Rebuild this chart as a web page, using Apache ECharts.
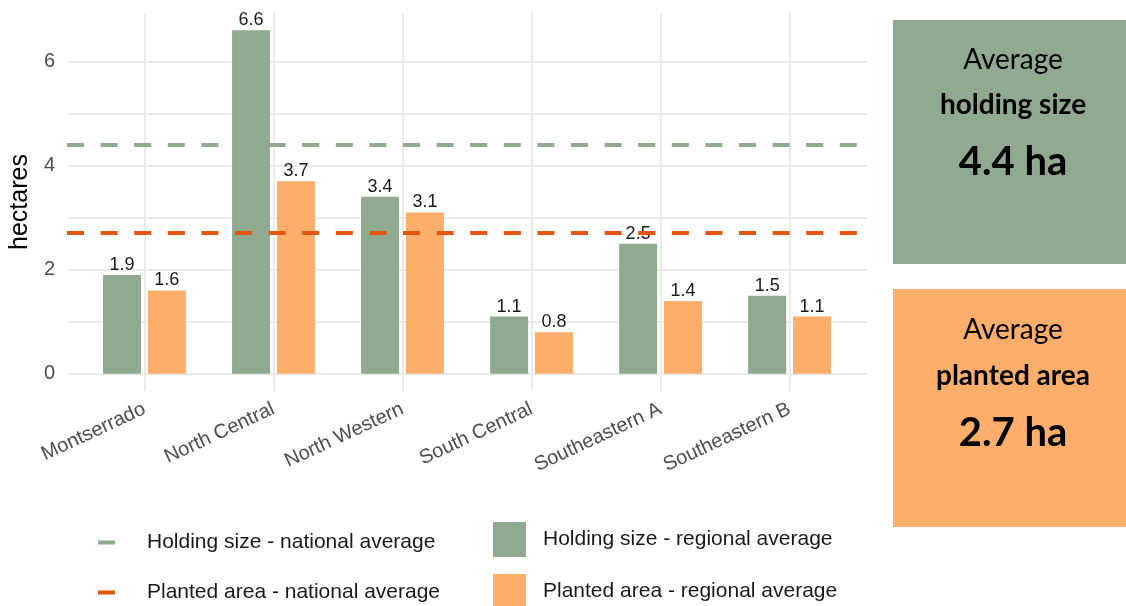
<!DOCTYPE html>
<html>
<head>
<meta charset="utf-8">
<title>Holding size and planted area by region</title>
<script src="https://cdn.jsdelivr.net/npm/echarts@6/dist/echarts.min.js"></script>
<style>
  html, body { margin: 0; padding: 0; background: #fff; }
  #chart { width: 1126px; height: 606px; }
</style>
</head>
<body>
<div id="chart"></div>
<script>
// data
const regions = ["Montserrado", "North Central", "North Western", "South Central", "Southeastern A", "Southeastern B"];
const holdingRegional = [1.9, 6.6, 3.4, 1.1, 2.5, 1.5];
const plantedRegional = [1.6, 3.7, 3.1, 0.8, 1.4, 1.1];
const holdingNational = 4.4;
const plantedNational = 2.7;
const yLabelTicks = [0, 2, 4, 6];
const yGridTicks = [0, 1, 2, 3, 4, 5, 6];

const GREEN = "#8FAA8F";
const ORANGE = "#FDAE6B";
const DARK_ORANGE = "#E6550D";
const FONT = "Liberation Sans";

// positions of the categories on a value axis (1..n), like ggplot does it
const xPos = regions.map((r, i) => i + 1);
const yMaxData = Math.max(...holdingRegional, ...plantedRegional);
const yPad = yMaxData * 0.05;

const chart = echarts.init(document.getElementById("chart"));

function legendItem(name, left, top, w, h, gap) {
  return {
    left: left,
    top: top,
    padding: 0,
    orient: "vertical",
    selectedMode: false,
    itemWidth: w,
    itemHeight: h,
    data: [{ name: name, icon: "rect" }],
    textStyle: {
      fontFamily: FONT,
      fontSize: 21,
      color: "#1A1A1A",
      padding: [0, 0, 0, gap]
    }
  };
}

function boxText(text, y, size, weight) {
  return {
    type: "text",
    x: 1013,
    y: y,
    style: {
      text: text,
      fontFamily: "Lato",
      fontSize: size,
      fontWeight: weight,
      fill: "#000",
      align: "center",
      verticalAlign: "middle"
    }
  };
}

let option = {
  animation: false,
  textStyle: { fontFamily: FONT },
  grid: {
    left: 65,
    right: 259,
    top: 13,
    bottom: 215
  },
  xAxis: {
    type: "value",
    min: 0.4,
    max: 6.6,
    axisLine: { show: false },
    axisTick: { show: false, customValues: xPos },
    splitLine: { show: true, lineStyle: { color: "#EBEBEB", width: 2 } },
    axisLabel: {
      customValues: xPos,
      formatter: v => regions[Math.round(v) - 1],
      rotate: 25,
      margin: 17,
      fontSize: 20,
      color: "#4D4D4D"
    }
  },
  yAxis: {
    type: "value",
    min: -yPad,
    max: yMaxData + yPad,
    name: "hectares",
    nameLocation: "middle",
    nameGap: 24,
    nameTextStyle: { fontSize: 25, color: "#000" },
    axisLine: { show: false },
    axisTick: { show: false, customValues: yGridTicks },
    splitLine: { show: true, lineStyle: { color: "#EBEBEB", width: 2 } },
    axisLabel: {
      customValues: yLabelTicks,
      margin: 12,
      fontSize: 20,
      color: "#4D4D4D"
    }
  },
  legend: [
    legendItem("Holding size - national average", 98, 532, 17, 4, 27),
    legendItem("Planted area - national average", 98, 582, 17, 4, 27),
    legendItem("Holding size - regional average", 493, 522, 33, 35, 12),
    legendItem("Planted area - regional average", 493, 574, 33, 35, 12)
  ],
  series: [
    {
      name: "Holding size - regional average",
      type: "bar",
      barWidth: 38,
      barGap: "18%",
      itemStyle: { color: GREEN },
      label: {
        show: true,
        position: "top",
        distance: 1,
        fontSize: 18,
        color: "#1A1A1A",
        formatter: p => p.value[1].toFixed(1)
      },
      data: xPos.map((x, i) => [x, holdingRegional[i]])
    },
    {
      name: "Planted area - regional average",
      type: "bar",
      barWidth: 38,
      barGap: "18%",
      itemStyle: { color: ORANGE },
      label: {
        show: true,
        position: "top",
        distance: 1,
        fontSize: 18,
        color: "#1A1A1A",
        formatter: p => p.value[1].toFixed(1)
      },
      data: xPos.map((x, i) => [x, plantedRegional[i]])
    },
    {
      name: "Holding size - national average",
      type: "line",
      z: 5,
      itemStyle: { color: GREEN },
      lineStyle: { color: GREEN },
      data: [],
      markLine: {
        silent: true,
        symbol: "none",
        label: { show: false },
        lineStyle: { color: GREEN, width: 4, type: [17, 16.6] },
        data: [{ yAxis: holdingNational }]
      }
    },
    {
      name: "Planted area - national average",
      type: "line",
      z: 5,
      itemStyle: { color: DARK_ORANGE },
      lineStyle: { color: DARK_ORANGE },
      data: [],
      markLine: {
        silent: true,
        symbol: "none",
        label: { show: false },
        lineStyle: { color: DARK_ORANGE, width: 4, type: [17, 16.6] },
        data: [{ yAxis: plantedNational }]
      }
    }
  ],
  graphic: [
    { type: "rect", shape: { x: 893, y: 20, width: 240, height: 244 }, style: { fill: GREEN } },
    boxText("Average", 60, 28, "normal"),
    boxText("holding size", 105, 28, "bold"),
    boxText(holdingNational.toFixed(1) + " ha", 162, 40, "bold"),
    { type: "rect", shape: { x: 893, y: 289, width: 240, height: 238 }, style: { fill: ORANGE } },
    boxText("Average", 330, 28, "normal"),
    boxText("planted area", 376, 28, "bold"),
    boxText(plantedNational.toFixed(1) + " ha", 433, 40, "bold")
  ]
};

chart.setOption(option);
</script>
</body>
</html>
